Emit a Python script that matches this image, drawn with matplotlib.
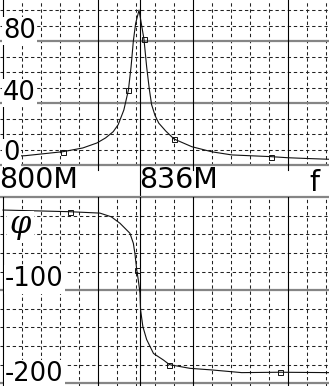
import matplotlib
matplotlib.use('Agg')
import matplotlib.pyplot as plt
import numpy as np

plt.rcParams['font.family'] = ['DejaVu Sans']
plt.rcParams['mathtext.fontset'] = 'dejavuserif'
plt.rcParams['lines.scale_dashes'] = False

# ---- data ----
mag_freq = [800.0, 805.8, 815.8, 821.0, 824.7, 827.0, 829.0, 830.3, 831.8, 833.0,
            833.7, 834.3, 834.9, 835.8, 837.1, 837.8, 838.5, 839.1, 840.0, 841.0,
            842.8, 845.0, 849.7, 855.0, 860.2, 870.5, 874.9, 880.0, 885.8]
mag_vals = [5.5, 6.0, 8.6, 11.0, 14.2, 17.5, 21.5, 26.0, 35.5, 48.4,
            63.4, 80.0, 91.4, 100.0, 81.1, 63.4, 49.0, 39.0, 32.0, 27.0,
            22.0, 16.8, 11.8, 8.5, 6.5, 5.4, 4.7, 4.2, 3.7]
mag_marker_idx = [2, 9, 14, 21, 25]

phase_freq = [800.0, 817.6, 825.5, 828.5, 830.8, 833.4, 834.3, 834.7, 835.2, 835.6,
              836.05, 836.2, 836.8, 837.8, 839.6, 842.2, 843.8, 849.2, 854.9, 862.8,
              872.9, 885.8]
phase_vals = [-13.7, -15.5, -17.0, -21.0, -28.0, -38.7, -49.5, -60.2, -78.2, -89.0,
              -103.0, -121.0, -139.0, -153.0, -168.0, -175.0, -180.0, -184.0, -185.7, -188.6,
              -188.2, -188.6]
phase_marker_idx = [1, 8, 16, 20]

mag_ticks = [0, 40, 80]
mag_tick_labels = ['0', '40', '80']
phase_ticks = [-100, -200]
phase_tick_labels = ['-100', '-200']
freq_ticks = [800, 836]
freq_tick_labels = ['800M', '836M']
cursor_freq = 836

# ---- figure ----
W, H = 329, 386
fig = plt.figure(figsize=(W / 100, H / 100), dpi=100)
top_px, band_px = 165, 197.3
ax1 = fig.add_axes([0, 1 - top_px / H, 1, top_px / H])
ax2 = fig.add_axes([0, 0, 1, (H - band_px) / H])

xlim = (799.2, 885.8)
for ax in (ax1, ax2):
    ax.set_xlim(*xlim)
    ax.axis('off')
ax1.set_ylim(0, 106.5)
ax2.set_ylim(-203, 0)

dash = (0, (2.4, 2.0))
minor_x = [v for v in range(805, 886, 5) if v % 25 != 0]
major_x = [800, 825, 850, 875]
grey = '#858585'

for ax, minor_y, major_y in ((ax1, [10, 20, 30, 50, 60, 70, 90, 100], [0, 40, 80]),
                             (ax2, [-20, -40, -60, -80, -120, -140, -160, -180], [0, -100, -200])):
    for v in minor_x:
        ax.axvline(v, color='#222222', lw=0.75, ls=dash, zorder=1)
    for v in minor_y:
        ax.axhline(v, color='#222222', lw=0.75, ls=dash, zorder=1)
    for v in major_y:
        ax.axhline(v, color=grey, lw=1.6, zorder=1.5, clip_on=False)
for v in major_x:
    ax1.axvline(v, ymin=-0.03, ymax=1, color='black', lw=0.8, zorder=2, clip_on=False)
    ax2.axvline(v, color='black', lw=0.8, zorder=2)

# cursor line through both panels
ax1.axvline(cursor_freq, ymin=-0.2, ymax=1, color='black', lw=0.8, zorder=2, clip_on=False)
ax2.axvline(cursor_freq, color='black', lw=0.8, zorder=2)

# curves
ax1.plot(mag_freq, mag_vals, color='#111111', lw=0.8, marker='s', markersize=3.6,
         markerfacecolor='none', markeredgewidth=0.7, markevery=mag_marker_idx, zorder=3)
ax2.plot(phase_freq, phase_vals, color='#111111', lw=0.8, marker='s', markersize=3.6,
         markerfacecolor='none', markeredgewidth=0.7, markevery=phase_marker_idx, zorder=3)

bbox = dict(facecolor='white', edgecolor='none', pad=1.0)
for v, lab, dy in zip(mag_ticks, mag_tick_labels, [5, 3, 3]):
    ax1.annotate(lab, xy=(0, v), xycoords=('axes fraction', 'data'), xytext=(3, dy),
                 textcoords='offset pixels', ha='left', va='baseline', fontsize=18.5,
                 color='black', bbox=bbox, zorder=5)
for v, lab, dy in zip(phase_ticks, phase_tick_labels, [4, 2]):
    ax2.annotate(lab, xy=(0, v), xycoords=('axes fraction', 'data'), xytext=(5, dy),
                 textcoords='offset pixels', ha='left', va='baseline', fontsize=18.5,
                 color='black', bbox=bbox, zorder=5)

for v, lab, dx in zip(freq_ticks, freq_tick_labels, [-4, -1]):
    ax1.annotate(lab, xy=(v, 0), xycoords='data', xytext=(dx, -23),
                 textcoords='offset pixels', ha='left', va='baseline', fontsize=20.5,
                 color='black', annotation_clip=False, zorder=5)
ax1.annotate('f', xy=(0.94, 0), xycoords='axes fraction', xytext=(0, -26),
             textcoords='offset pixels', ha='left', va='baseline', fontsize=20.5,
             color='black', annotation_clip=False, zorder=5)

ax2.text(9 / W, (H - 227) / (H - band_px), r'$\varphi$', transform=ax2.transAxes,
         ha='left', va='center', fontsize=22, color='black', bbox=bbox, zorder=5)

fig.savefig('out.png', dpi=100)
